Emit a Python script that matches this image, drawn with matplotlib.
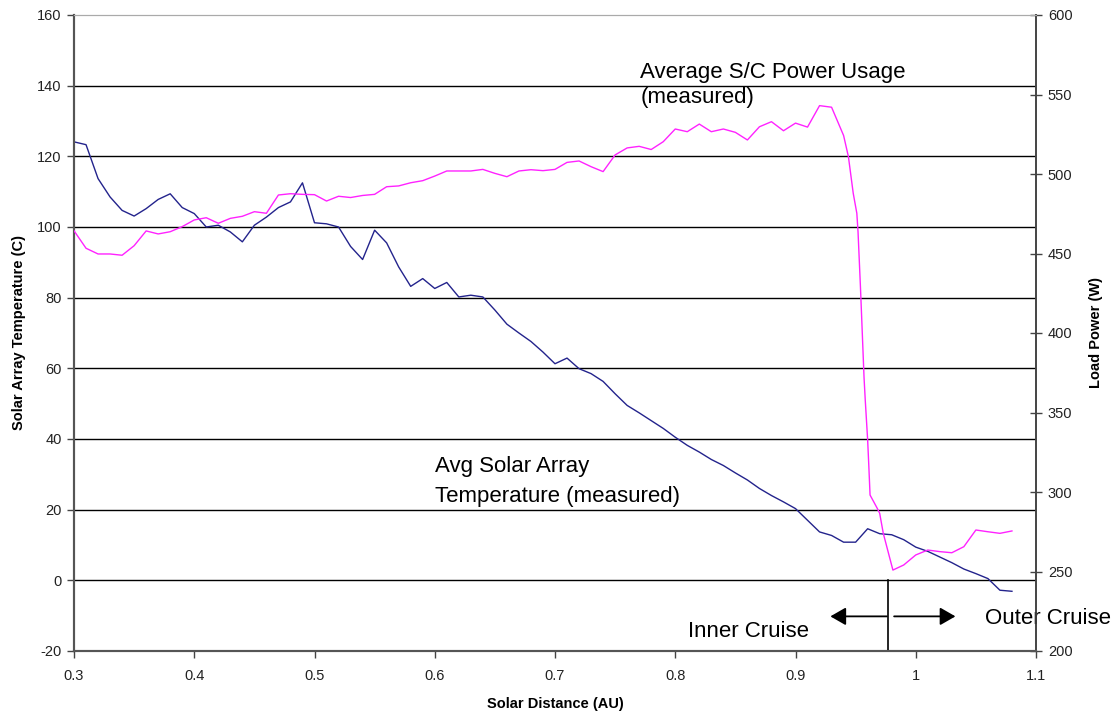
import matplotlib
matplotlib.use("Agg")
import matplotlib.pyplot as plt

plt.rcParams['font.family'] = ['Liberation Sans', 'DejaVu Sans']
plt.rcParams['axes.unicode_minus'] = False

# ---- data ----
temp_au = [0.30, 0.31, 0.32, 0.33, 0.34, 0.35, 0.36, 0.37, 0.38, 0.39,
           0.40, 0.41, 0.42, 0.43, 0.44, 0.45, 0.46, 0.47, 0.48, 0.49,
           0.50, 0.51, 0.52, 0.53, 0.54, 0.55, 0.56, 0.57, 0.58, 0.59,
           0.60, 0.61, 0.62, 0.63, 0.64, 0.65, 0.66, 0.67, 0.68, 0.69,
           0.70, 0.71, 0.72, 0.73, 0.74, 0.75, 0.76, 0.77, 0.78, 0.79,
           0.80, 0.81, 0.82, 0.83, 0.84, 0.85, 0.86, 0.87, 0.88, 0.89,
           0.90, 0.91, 0.92, 0.93, 0.94, 0.95, 0.96, 0.97, 0.98, 0.99,
           1.00, 1.01, 1.02, 1.03, 1.04, 1.05, 1.06, 1.07, 1.08]
temp_c = [124.1, 123.3, 113.7, 108.5, 104.7, 103.1, 105.2, 107.8, 109.4, 105.5,
          103.8, 100.0, 100.5, 98.6, 95.8, 100.5, 102.8, 105.5, 107.1, 112.5,
          101.2, 100.9, 100.0, 94.5, 90.8, 99.1, 95.5, 88.7, 83.2, 85.4,
          82.6, 84.3, 80.2, 80.7, 80.2, 76.5, 72.5, 70.0, 67.6, 64.6,
          61.3, 62.9, 59.9, 58.5, 56.3, 52.8, 49.5, 47.4, 45.2, 43.0,
          40.5, 38.2, 36.3, 34.2, 32.5, 30.4, 28.4, 26.0, 24.0, 22.2,
          20.3, 17.0, 13.7, 12.7, 10.8, 10.8, 14.6, 13.2, 12.9, 11.5,
          9.4, 8.2, 6.6, 5.0, 3.2, 1.9, 0.5, -2.8, -3.1]

power_au = [0.30, 0.31, 0.32, 0.33, 0.34, 0.35, 0.36, 0.37, 0.38, 0.39,
            0.40, 0.41, 0.42, 0.43, 0.44, 0.45, 0.46, 0.47, 0.48, 0.49,
            0.50, 0.51, 0.52, 0.53, 0.54, 0.55, 0.56, 0.57, 0.58, 0.59,
            0.60, 0.61, 0.62, 0.63, 0.64, 0.65, 0.66, 0.67, 0.68, 0.69,
            0.70, 0.71, 0.72, 0.73, 0.74, 0.75, 0.76, 0.77, 0.78, 0.79,
            0.80, 0.81, 0.82, 0.83, 0.84, 0.85, 0.86, 0.87, 0.88, 0.89,
            0.90, 0.91, 0.92, 0.93, 0.94, 0.944, 0.948, 0.951, 0.952, 0.954,
            0.955, 0.957, 0.958, 0.960, 0.961, 0.962, 0.968, 0.970, 0.973, 0.981,
            0.99, 1.00, 1.01, 1.02, 1.03, 1.04, 1.05, 1.06, 1.07, 1.08]
power_w = [464.3, 453.3, 449.7, 449.7, 448.9, 454.9, 464.2, 462.3, 463.7, 466.9,
           471.1, 472.5, 469.0, 472.1, 473.4, 476.3, 475.3, 486.8, 487.6, 487.2,
           487.0, 483.0, 486.0, 485.2, 486.5, 487.2, 492.0, 492.5, 494.5, 495.8,
           498.7, 501.9, 501.9, 501.9, 502.9, 500.4, 498.3, 501.9, 502.7, 502.1,
           502.9, 507.3, 508.2, 504.6, 501.5, 512.0, 516.4, 517.4, 515.4, 520.3,
           528.3, 526.6, 531.4, 526.6, 528.3, 526.2, 521.4, 529.7, 532.9, 527.2,
           532.0, 529.5, 543.0, 542.0, 524.2, 510.9, 487.9, 475.3, 463.7, 429.1,
           410.2, 372.0, 357.9, 332.7, 315.9, 298.1, 289.7, 286.6, 274.0, 250.9,
           254.1, 260.4, 263.5, 262.5, 261.8, 265.6, 276.1, 275.0, 274.0, 275.5]

x_ticks = [0.3, 0.4, 0.5, 0.6, 0.7, 0.8, 0.9, 1.0, 1.1]
x_tick_labels = ['0.3', '0.4', '0.5', '0.6', '0.7', '0.8', '0.9', '1', '1.1']
temp_ticks = [-20, 0, 20, 40, 60, 80, 100, 120, 140, 160]
power_ticks = [200, 250, 300, 350, 400, 450, 500, 550, 600]
cruise_boundary = 0.977

# ---- figure ----
fig = plt.figure(figsize=(11.14, 7.13), dpi=100)
ax = fig.add_axes([74/1114, 1-651/713, (1036-74)/1114, (651-15)/713])
ax2 = ax.twinx()

ax.set_xlim(0.3, 1.1)
ax.set_ylim(-20, 160)
ax2.set_ylim(200, 600)

# gridlines
for t in temp_ticks[1:-1]:
    ax.axhline(t, color='black', lw=1.0, zorder=1)

ax.plot(temp_au, temp_c, color='#23238c', lw=1.0, zorder=3)
ax2.plot(power_au, power_w, color='#ff22ff', lw=1.0, zorder=3)

ax.set_xticks(x_ticks)
ax.set_xticklabels(x_tick_labels)
ax.set_yticks(temp_ticks)
ax2.set_yticks(power_ticks)

tick_kw = dict(labelsize=10.5, labelcolor='#222222', color='#444444', width=1.0, length=5)
ax.tick_params(axis='x', direction='out', pad=8, **tick_kw)
ax.tick_params(axis='y', direction='out', pad=4, **tick_kw)
ax2.tick_params(axis='y', direction='inout', length=9, pad=4, labelsize=10.5,
                labelcolor='#222222', color='#444444', width=1.0)

for a in (ax, ax2):
    a.spines['top'].set_color('#aaaaaa')
    a.spines['left'].set_color('#555555')
    a.spines['bottom'].set_color('#555555')
    a.spines['right'].set_color('#444444')
    a.spines['left'].set_linewidth(1.5)
    a.spines['bottom'].set_linewidth(1.5)
    a.spines['right'].set_linewidth(1.2)

ax.set_xlabel('Solar Distance (AU)', fontsize=10.5, fontweight='bold', labelpad=10)
ax.set_ylabel('Solar Array Temperature (C)', fontsize=10.5, fontweight='bold', labelpad=8)
ax2.set_ylabel('Load Power (W)', fontsize=10.5, fontweight='bold', rotation=90, labelpad=12)

# annotations
ax.text(0.771, 142.1, 'Average S/C Power Usage', fontsize=16, va='baseline', ha='left')
ax.text(0.771, 135.0, '(measured)', fontsize=16, va='baseline', ha='left')
ax.text(0.600, 30.6, 'Avg Solar Array', fontsize=16, va='baseline', ha='left')
ax.text(0.600, 22.1, 'Temperature (measured)', fontsize=16, va='baseline', ha='left')
ax.text(0.8104, -16.0, 'Inner Cruise', fontsize=16, va='baseline', ha='left')
ax.text(1.0576, -12.5, 'Outer Cruise', fontsize=16, va='baseline', ha='left', clip_on=False)

ax.plot([cruise_boundary, cruise_boundary], [0, -20], color='black', lw=1.2, zorder=4)
arrow_style = dict(arrowstyle='-|>,head_length=0.47,head_width=0.27', color='black',
                   lw=1.3, mutation_scale=20, shrinkA=0, shrinkB=0)
ax.annotate('', xy=(0.929, -10.2), xytext=(cruise_boundary - 0.001, -10.2), arrowprops=arrow_style)
ax.annotate('', xy=(1.033, -10.2), xytext=(cruise_boundary + 0.005, -10.2), arrowprops=arrow_style)

fig.savefig('out.png', dpi=100)
